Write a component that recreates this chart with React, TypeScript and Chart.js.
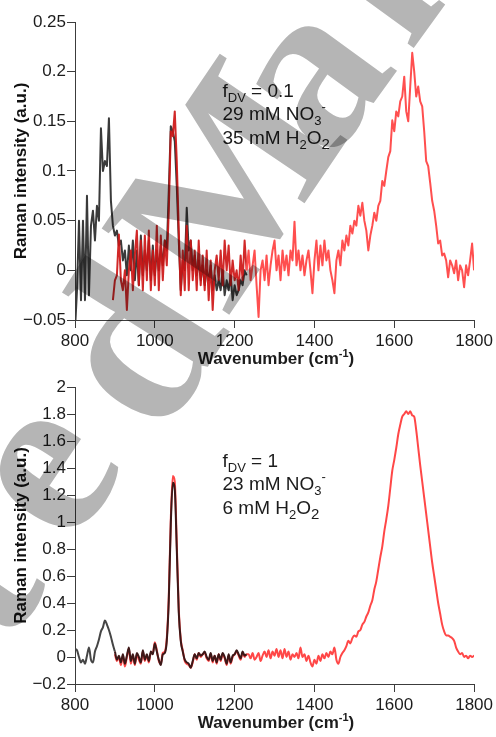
import React, { useEffect, useRef } from 'react';
import { Chart, registerables } from 'chart.js';

Chart.register(...registerables);

// ---------- data (Raman spectra, sampled every 5 cm-1) ----------
const STEP = 5;
const xTicks = [800, 1000, 1200, 1400, 1600, 1800];
const topYTicks = [-0.05, 0, 0.05, 0.1, 0.15, 0.2, 0.25];
const bottomYTicks = [-0.2, 0, 0.2, 0.4, 0.6, 0.8, 1, 1.2, 1.4, 1.6, 1.8, 2];

// top panel: fDV = 0.1
const topBlackStart = 800;
const topBlack = [
  -0.06, -0.02, 0.05, -0.03, 0.05, -0.03, 0.075, -0.025, 0.045, 0.06,
  0.03, 0.065, 0.05, 0.143, 0.1, 0.11, 0.105, 0.153, 0.07, 0.045,
  0.035, 0.04, 0.025, 0.03, 0.01, 0.02, -0.005, 0.025, 0, 0.03,
  -0.01, 0.02, -0.015, 0.035, -0.005, 0.02, 0, 0.03, -0.01, 0.025,
  -0.005, 0.02, 0, 0.025, 0.005, 0.03, 0.02, 0.08, 0.145, 0.14,
  0.13, 0.085, 0.03, -0.02, 0.01, 0, 0.063, 0.02, 0.03, 0,
  0.015, -0.005, 0.01, -0.01, 0.005, -0.015, 0, -0.01, 0.005, -0.02,
  -0.005, -0.02, -0.01, -0.02, 0, -0.025, -0.01, -0.02, -0.005, -0.03,
  -0.015, -0.025, -0.02, -0.01, -0.015, 0, -0.005,
];
const topRedStart = 895;
const topRed = [
  -0.03, -0.01, -0.005, 0.036, -0.01, -0.02, 0, -0.04, 0, 0.02,
  -0.02, 0.016, 0.04, -0.015, 0.03, -0.02, 0.035, -0.01, 0.04, -0.02,
  0.02, -0.015, 0.045, -0.02, 0.035, -0.01, 0.03, 0.005, 0.06, 0.14,
  0.135, 0.16, 0.11, 0.04, -0.025, 0.02, -0.02, 0.045, -0.02, 0.03,
  -0.01, 0.02, -0.02, 0.03, -0.015, 0.015, -0.02, 0.02, -0.03, 0.01,
  -0.04, 0, 0.015, -0.01, 0.02, -0.015, 0.03, 0, 0.025, -0.015,
  0.01, -0.01, 0, -0.02, 0.015, -0.01, 0.03, 0, 0.02, -0.01,
  0.005, 0.02, -0.015, -0.047, 0, 0.01, -0.01, 0.015, -0.015, 0.005,
  0.02, 0.03, 0, 0.015, -0.01, 0.02, 0, 0.015, -0.005, 0.02,
  0.01, 0.049, 0.005, 0.02, 0, 0.015, -0.005, 0.01, 0.02, 0,
  -0.023, 0.01, 0.03, 0, 0.025, 0.005, 0.03, 0.01, 0.02, 0,
  -0.01, -0.023, 0.01, 0.02, 0.005, 0.03, 0.02, 0.035, 0.025, 0.045,
  0.037, 0.05, 0.045, 0.065, 0.055, 0.068, 0.05, 0.04, 0.02, 0.035,
  0.045, 0.058, 0.05, 0.065, 0.07, 0.09, 0.085, 0.1, 0.114, 0.12,
  0.151, 0.14, 0.16, 0.155, 0.17, 0.175, 0.195, 0.16, 0.15, 0.185,
  0.219, 0.2, 0.175, 0.185, 0.17, 0.165, 0.14, 0.11, 0.105, 0.088,
  0.07, 0.06, 0.045, 0.027, 0.03, 0.015, 0.017, 0.01, -0.007, 0.01,
  0.005, -0.003, 0.01, -0.01, 0.005, 0, -0.017, 0.005, -0.005, 0.01,
  0.027, 0,
];

// bottom panel: fDV = 1
const bottomBlackStart = 800;
const bottomBlack = [
  0.06, 0.05, 0, -0.04, -0.02, -0.05, 0.01, 0.07, -0.02, -0.04,
  0.04, 0.08, 0.13, 0.19, 0.22, 0.27, 0.24, 0.2, 0.15, 0.09,
  0.04, -0.02, 0.01, -0.04, 0.02, -0.05, 0.01, 0.07, -0.03, 0.02,
  -0.05, 0.03, 0, -0.04, 0.05, -0.02, 0.02, -0.03, 0.04, 0.02,
  0.1, 0.04, -0.02, -0.06, 0.02, 0.03, 0.12, 0.42, 0.98, 1.29,
  1.24, 0.8, 0.33, 0.12, 0.04, -0.02, -0.04, -0.05, -0.08, -0.03,
  0.02, -0.01, 0.03, 0.01, 0.02, 0.04, 0, -0.02, 0.03, -0.03,
  0.01, -0.04, 0.02, -0.02, 0.03, 0, -0.05, 0.02, -0.04, 0.01,
  0.02, 0.05, 0.02, -0.01, 0.04, 0.01, 0.02,
];
const bottomRedStart = 900;
const bottomRed = [
  0.02, -0.03, 0, -0.06, 0.01, -0.07, 0, 0.06, -0.05, 0.01,
  -0.06, 0.02, -0.02, -0.05, 0.04, -0.03, 0.01, -0.04, 0.03, 0.03,
  0.11, 0.05, -0.03, -0.05, 0.03, 0.04, 0.14, 0.45, 1.02, 1.34,
  1.3, 0.84, 0.36, 0.13, 0.05, -0.03, -0.05, -0.06, -0.08, -0.04,
  0.02, -0.02, 0.03, 0, 0.02, 0.03, -0.01, -0.03, 0.02, -0.04,
  0.01, -0.05, 0.02, -0.03, 0.02, -0.01, -0.06, 0.01, -0.05, 0,
  0.02, 0.04, 0.01, -0.02, 0.03, 0, 0.02, 0.02, -0.01, 0.03,
  -0.02, 0, 0.03, -0.03, 0.01, 0.04, 0, 0.05, -0.01, 0.04,
  0.01, 0.06, 0, 0.05, -0.01, 0.06, 0, 0.04, -0.02, 0.02,
  0, 0.03, -0.01, 0.07, 0, 0.02, -0.03, 0.01, -0.04, -0.07,
  -0.02, -0.05, 0.01, -0.03, 0.02, -0.01, 0.03, 0, 0.04, 0.02,
  0.07, -0.02, -0.05, 0, 0.03, 0.05, 0.08, 0.12, 0.1, 0.14,
  0.16, 0.15, 0.19, 0.2, 0.24, 0.26, 0.3, 0.33, 0.38, 0.42,
  0.5, 0.56, 0.65, 0.74, 0.82, 0.93, 1.02, 1.12, 1.25, 1.38,
  1.46, 1.55, 1.65, 1.72, 1.78, 1.8, 1.82, 1.8, 1.82, 1.79,
  1.78, 1.68, 1.55, 1.42, 1.3, 1.18, 1.06, 0.94, 0.82, 0.7,
  0.6, 0.5, 0.4, 0.32, 0.24, 0.19, 0.16, 0.16, 0.15, 0.14,
  0.12, 0.07, 0.04, 0.02, 0.03, 0, 0.01, -0.01, 0.01, 0,
  0.01,
];

const topNotes = ['fDV = 0.1', '29 mM NO3-', '35 mM H2O2'];
const bottomNotes = ['fDV = 1', '23 mM NO3-', '6 mM H2O2'];

// watermark letters ("Accepted Manuscript"), the visible ones
const wmChars = ['t', 'e', 'd', 'M', 'a', 'n'];

// ---------- styling ----------
const W = 496;
const FONT = '"Liberation Sans", Arial, sans-serif';
const AXIS_COLOR = '#3c3c3c';
const TEXT_COLOR = '#1c1c1c';
const WM_SIZE = 235;
// placement (baseline origin x, y, rotation in degrees) of each watermark letter
const wmPlace: [number, number, number][] = [
  [5, 650, -56],
  [70, 550, -56],
  [162, 440, -58],
  [227, 318, -56],
  [330, 163, -54],
  [410, 53, -54],
];

type Part = { t: string; s: number; dy?: number; bold?: boolean };

function toPoints(start: number, values: number[]) {
  return values.map((y, i) => ({ x: start + i * STEP, y }));
}

function fmt(v: number) {
  return String(Math.round(v * 100) / 100).replace('-', '\u2212');
}

function drawParts(ctx: CanvasRenderingContext2D, x: number, y: number, parts: Part[], center = false) {
  let total = 0;
  for (const p of parts) {
    ctx.font = `${p.bold ? 'bold ' : ''}${p.s}px ${FONT}`;
    total += ctx.measureText(p.t).width;
  }
  let cx = center ? x - total / 2 : x;
  for (const p of parts) {
    ctx.font = `${p.bold ? 'bold ' : ''}${p.s}px ${FONT}`;
    ctx.fillText(p.t, cx, y + (p.dy || 0));
    cx += ctx.measureText(p.t).width;
  }
}

function noteParts(line: string): Part[] {
  if (line.startsWith('fDV')) {
    return [
      { t: 'f', s: 19 },
      { t: 'DV', s: 13, dy: 5 },
      { t: line.slice(3), s: 19 },
    ];
  }
  if (line.endsWith('NO3-')) {
    return [
      { t: line.slice(0, -2), s: 19 },
      { t: '3', s: 13, dy: 5 },
      { t: '-', s: 13, dy: -9 },
    ];
  }
  if (line.endsWith('H2O2')) {
    return [
      { t: line.slice(0, -3), s: 19 },
      { t: '2', s: 13, dy: 5 },
      { t: 'O', s: 19 },
      { t: '2', s: 15, dy: 5 },
    ];
  }
  return [{ t: line, s: 19 }];
}

function makeConfig(opts: {
  datasets: any[];
  yTicks: number[];
  yMin: number;
  yMax: number;
  padTop: number;
  xAxisHeight: number;
  notes: string[];
  offsetY: number;
  titleBaseline: number;
}) {
  const annotate = {
    id: 'annotate',
    afterDraw(chart: any) {
      const ctx: CanvasRenderingContext2D = chart.ctx;
      ctx.save();
      ctx.fillStyle = TEXT_COLOR;
      ctx.textBaseline = 'alphabetic';
      ctx.textAlign = 'left';
      opts.notes.forEach((line, i) => {
        drawParts(ctx, 222.5, 97 + i * 23.3, noteParts(line));
      });
      drawParts(
        ctx,
        276,
        opts.titleBaseline,
        [
          { t: 'Wavenumber (cm', s: 17, bold: true },
          { t: '-1', s: 11, bold: true, dy: -7 },
          { t: ')', s: 17, bold: true },
        ],
        true
      );
      ctx.restore();

      // watermark
      ctx.save();
      ctx.globalCompositeOperation = 'multiply';
      ctx.fillStyle = '#b5b5b5';
      ctx.font = `bold ${WM_SIZE}px "Liberation Serif", "Times New Roman", serif`;
      ctx.textBaseline = 'alphabetic';
      ctx.textAlign = 'left';
      wmChars.forEach((ch, i) => {
        const [x, y, r] = wmPlace[i];
        ctx.save();
        ctx.translate(x, y - opts.offsetY);
        ctx.rotate((r * Math.PI) / 180);
        ctx.fillText(ch, 0, 0);
        ctx.restore();
      });
      ctx.restore();
    },
  };

  return {
    type: 'line' as const,
    data: { datasets: opts.datasets },
    options: {
      animation: false as const,
      responsive: false,
      maintainAspectRatio: false,
      devicePixelRatio: 1,
      events: [],
      layout: { padding: { left: 0, right: 21, top: opts.padTop, bottom: 0 } },
      plugins: { legend: { display: false }, tooltip: { enabled: false } },
      elements: { point: { radius: 0 }, line: { borderJoinStyle: 'round' as const } },
      scales: {
        x: {
          type: 'linear' as const,
          min: 800,
          max: 1800,
          afterBuildTicks: (s: any) => {
            s.ticks = xTicks.map((v) => ({ value: v }));
          },
          afterFit: (s: any) => {
            s.height = opts.xAxisHeight;
          },
          grid: { drawOnChartArea: false, drawTicks: true, tickLength: 8, color: AXIS_COLOR },
          border: { display: true, color: AXIS_COLOR, width: 1 },
          ticks: {
            font: { family: FONT, size: 17 },
            color: TEXT_COLOR,
            padding: 3,
            maxRotation: 0,
            autoSkip: false,
            callback: (v: any) => String(v),
          },
        },
        y: {
          type: 'linear' as const,
          min: opts.yMin,
          max: opts.yMax,
          afterBuildTicks: (s: any) => {
            s.ticks = opts.yTicks.map((v) => ({ value: v }));
          },
          afterFit: (s: any) => {
            s.width = 75;
          },
          grid: { drawOnChartArea: false, drawTicks: true, tickLength: 8, color: AXIS_COLOR },
          border: { display: true, color: AXIS_COLOR, width: 1 },
          ticks: {
            font: { family: FONT, size: 17 },
            color: TEXT_COLOR,
            padding: 1,
            autoSkip: false,
            callback: (v: any) => fmt(Number(v)),
          },
          title: {
            display: true,
            text: 'Raman intensity (a.u.)',
            font: { family: FONT, size: 17, weight: 'bold' as const },
            color: '#111',
            padding: { top: 11, bottom: 0 },
          },
        },
      },
    },
    plugins: [annotate],
  };
}

export default function App() {
  const topRef = useRef<HTMLCanvasElement>(null);
  const bottomRef = useRef<HTMLCanvasElement>(null);

  useEffect(() => {
    document.body.style.margin = '0';
    const top = new Chart(
      topRef.current as HTMLCanvasElement,
      makeConfig({
        datasets: [
          {
            data: toPoints(topRedStart, topRed),
            borderColor: '#ff4f4f',
            borderWidth: 2,
            tension: 0,
            segment: {
              borderColor: (c: any) => (c.p1.parsed.x <= 1230 ? 'rgba(205,22,22,0.92)' : undefined),
            },
          },
          {
            data: toPoints(topBlackStart, topBlack),
            borderColor: '#3a3a3a',
            borderWidth: 2,
            tension: 0,
          },
        ],
        yTicks: topYTicks,
        yMin: -0.05,
        yMax: 0.25,
        padTop: 22,
        xAxisHeight: 50,
        notes: topNotes,
        offsetY: 0,
        titleBaseline: 364,
      }) as any
    );
    const bottom = new Chart(
      bottomRef.current as HTMLCanvasElement,
      makeConfig({
        datasets: [
          {
            data: toPoints(bottomBlackStart, bottomBlack),
            borderColor: '#454545',
            borderWidth: 2,
            cubicInterpolationMode: 'monotone',
            segment: {
              borderColor: (c: any) => (c.p0.parsed.x >= 900 ? '#3d1818' : undefined),
            },
          },
          {
            data: toPoints(bottomRedStart, bottomRed),
            borderColor: '#ff4747',
            borderWidth: 2,
            cubicInterpolationMode: 'monotone',
          },
        ],
        yTicks: bottomYTicks,
        yMin: -0.2,
        yMax: 2,
        padTop: 17,
        xAxisHeight: 53,
        notes: bottomNotes,
        offsetY: 370,
        titleBaseline: 358,
      }) as any
    );
    return () => {
      top.destroy();
      bottom.destroy();
    };
  }, []);

  return (
    <div style={{ width: W, height: 737, background: '#fff', position: 'relative' }}>
      <canvas ref={topRef} width={W} height={370} style={{ display: 'block' }} />
      <canvas ref={bottomRef} width={W} height={367} style={{ display: 'block' }} />
    </div>
  );
}
